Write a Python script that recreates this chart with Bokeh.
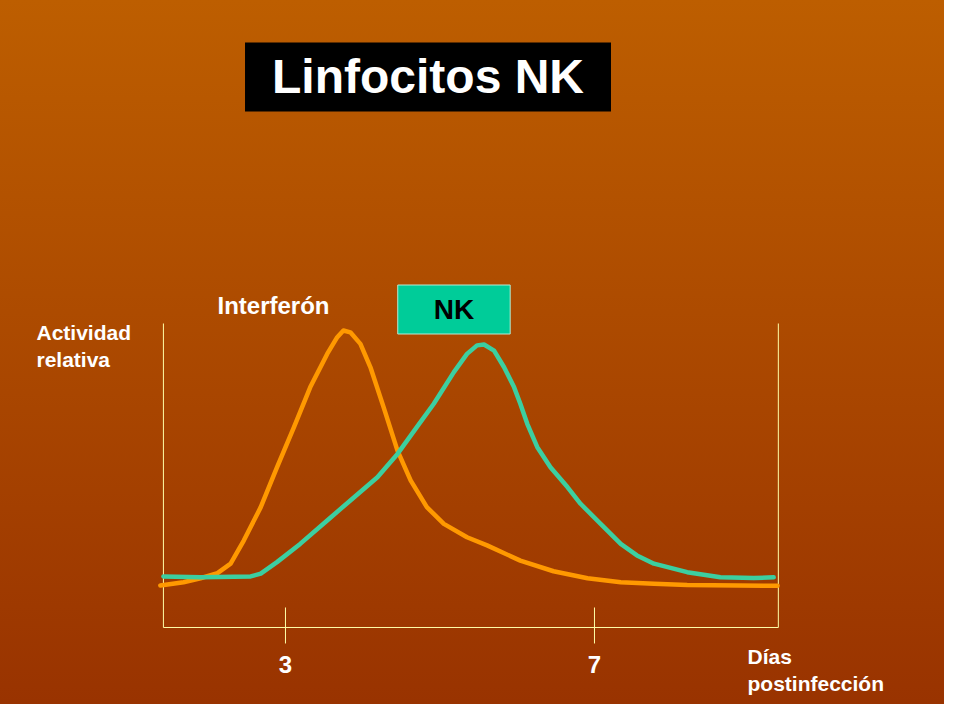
from bokeh.plotting import figure
from bokeh.models import Label
from bokeh.core.properties import value
from bokeh.embed import file_html
from bokeh.resources import INLINE

# ---- data (days post-infection, relative activity 0-100) ----
ifn_days = [1.38, 1.68, 1.90, 2.12, 2.29, 2.46, 2.68, 2.89, 3.11, 3.32, 3.54, 3.67,
            3.75, 3.84, 3.97, 4.10, 4.27, 4.45, 4.62, 4.83, 5.05, 5.35, 5.61, 6.04,
            6.47, 6.91, 7.34, 7.77, 8.20, 9.37]
ifn_act = [13.8, 14.9, 16.2, 17.9, 21.0, 28.6, 39.6, 52.7, 65.9, 79.0, 90.0, 95.5,
           97.7, 97.1, 93.3, 85.6, 72.5, 58.2, 48.4, 39.6, 34.1, 29.7, 27.0, 22.0,
           18.5, 16.2, 14.9, 14.4, 14.0, 13.7]

nk_days = [1.42, 1.90, 2.55, 2.68, 2.89, 3.19, 3.54, 3.84, 4.19, 4.45, 4.70, 4.92,
           5.18, 5.35, 5.48, 5.57, 5.70, 5.83, 5.96, 6.04, 6.13, 6.26, 6.43, 6.65,
           6.82, 7.08, 7.34, 7.55, 7.77, 8.20, 8.63, 9.06, 9.32]
nk_act = [16.8, 16.5, 16.8, 17.7, 21.5, 27.5, 35.2, 41.8, 49.4, 57.1, 65.9, 73.6,
          84.0, 90.0, 92.8, 93.1, 91.1, 85.6, 79.0, 73.6, 67.0, 59.3, 52.7, 46.2,
          40.7, 34.1, 27.5, 23.7, 21.0, 18.2, 16.5, 16.3, 16.5]

tick_days = [3, 7]
tick_labels = ["3", "7"]

# axis box extent (data units)
axis_x_start, axis_x_end = 1.42, 9.38
axis_y_top = 100
tick_low, tick_high = -5.26, 6.58
tick_label_y = -12.2

title_text = "Linfocitos NK"
ifn_label = "Interferón"
nk_label = "NK"
y_label = "Actividad\nrelativa"
x_label = "Días\npostinfección"

FONT = "Liberation Sans"
AXIS_COLOR = "#FFFFA8"

p = figure(width=944, height=704, output_backend="svg", toolbar_location=None,
           x_range=(-0.689, 11.531), y_range=(-25.33, 206.25),
           min_border=0, x_axis_location=None, y_axis_location=None,
           styles={"background-image": "linear-gradient(to bottom, #BD5E00, #993300)"})
p.border_fill_alpha = 0
p.background_fill_alpha = 0
p.outline_line_color = None
p.grid.visible = False

# axis lines (open box) and tick marks
p.segment(x0=[axis_x_start, axis_x_end, axis_x_start],
          y0=[0, 0, 0],
          x1=[axis_x_start, axis_x_end, axis_x_end],
          y1=[axis_y_top, axis_y_top, 0],
          line_color=AXIS_COLOR, line_width=1)
p.segment(x0=tick_days, x1=tick_days, y0=[tick_low] * len(tick_days),
          y1=[tick_high] * len(tick_days), line_color=AXIS_COLOR, line_width=1)
p.text(x=tick_days, y=[tick_label_y] * len(tick_days), text=tick_labels,
       text_align="center", text_baseline="alphabetic", text_color="white",
       text_font=value(FONT), text_font_style="bold", text_font_size="24px")

p.line(x=ifn_days, y=ifn_act, line_color="#FF9900", line_width=4.5,
       line_join="round", line_cap="round")
p.line(x=nk_days, y=nk_act, line_color="#3CCFA0", line_width=4.5,
       line_join="round", line_cap="round")

# texts
p.add_layout(Label(x=4.845, y=181.1, text=title_text, text_align="center",
                   text_baseline="middle", text_color="white", text_font=FONT,
                   text_font_style="bold", text_font_size="48px",
                   background_fill_color="black", padding=(27, 8)))
p.add_layout(Label(x=5.181, y=104.6, text=nk_label, text_align="center",
                   text_baseline="middle", text_color="black", text_font=FONT,
                   text_font_style="bold", text_font_size="28px",
                   background_fill_color="#00CC99", border_line_color="#B8E8D0",
                   border_line_width=1, padding=(36, 9)))
p.add_layout(Label(x=2.120, y=106.0, text=ifn_label, text_align="left",
                   text_baseline="alphabetic", text_color="white", text_font=FONT,
                   text_font_style="bold", text_font_size="24px"))
p.add_layout(Label(x=-0.223, y=100.66, text=y_label, text_align="left",
                   text_baseline="top", text_color="white", text_font=FONT,
                   text_font_style="bold", text_font_size="21px",
                   text_line_height=1.15))
p.add_layout(Label(x=8.981, y=-5.9, text=x_label, text_align="left",
                   text_baseline="top", text_color="white", text_font=FONT,
                   text_font_style="bold", text_font_size="21px",
                   text_line_height=1.15))

open("out.html", "w").write(file_html(p, INLINE))
